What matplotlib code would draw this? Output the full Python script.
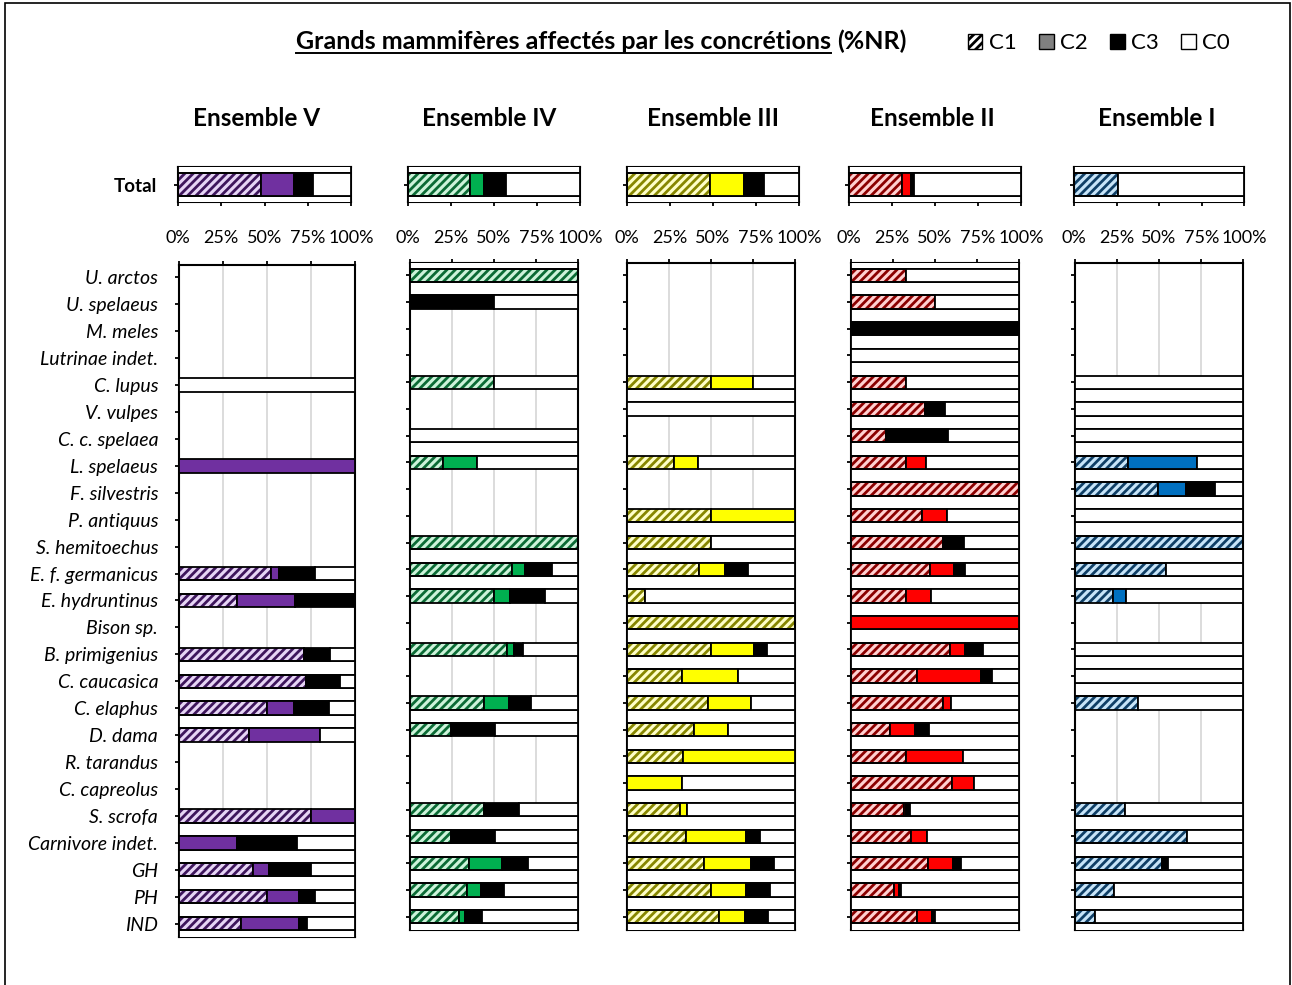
import numpy as np
import matplotlib.pyplot as plt
from matplotlib.patches import Patch, Rectangle
from matplotlib.lines import Line2D

plt.rcParams['font.family'] = ['Lato', 'DejaVu Sans']
plt.rcParams['hatch.linewidth'] = 2.0

nan = np.nan

# Data (%NR): C1, C2, C3 per ensemble, C0 is the remainder; nan = no remains

species = ["U. arctos", "U. spelaeus", "M. meles", "Lutrinae indet.", "C. lupus",
           "V. vulpes", "C. c. spelaea", "L. spelaeus", "F. silvestris", "P. antiquus",
           "S. hemitoechus", "E. f. germanicus", "E. hydruntinus", "Bison sp.",
           "B. primigenius", "C. caucasica", "C. elaphus", "D. dama", "R. tarandus",
           "C. capreolus", "S. scrofa", "Carnivore indet.", "GH", "PH", "IND"]

ensembles = ["Ensemble V", "Ensemble IV", "Ensemble III", "Ensemble II", "Ensemble I"]

ens5_c1 = [nan, nan, nan, nan, 0, nan, nan, 0, nan, nan, nan, 52, 33, nan, 71, 72, 50, 40, nan, nan, 75, 0, 42, 50, 35]
ens5_c2 = [nan, nan, nan, nan, 0, nan, nan, 100, nan, nan, nan, 5, 33, nan, 0, 0, 15.5, 40, nan, nan, 25, 33, 9, 18, 33]
ens5_c3 = [nan, nan, nan, nan, 0, nan, nan, 0, nan, nan, nan, 20, 34, nan, 15, 19.5, 20, 0, nan, nan, 0, 34, 24, 9, 5]

ens4_c1 = [100, 0, nan, nan, 50, nan, 0, 19.5, nan, nan, 100, 61, 50, nan, 58, nan, 44, 24.5, nan, nan, 44, 24.5, 35, 34, 29]
ens4_c2 = [0, 0, nan, nan, 0, nan, 0, 20.5, nan, nan, 0, 7.5, 9.5, nan, 4, nan, 15, 0, nan, nan, 0, 0, 20, 8.5, 4]
ens4_c3 = [0, 50, nan, nan, 0, nan, 0, 0, nan, nan, 0, 16, 21, nan, 5, nan, 13, 26, nan, nan, 21, 26, 15, 13.5, 10]

ens3_c1 = [nan, nan, nan, nan, 50, 0, nan, 28, nan, 50, 50, 43, 11, 100, 50, 33, 48, 40, 33.3, 0, 31.5, 35, 46, 50, 55]
ens3_c2 = [nan, nan, nan, nan, 25, 0, nan, 14.5, nan, 50, 0, 15.5, 0, 0, 25.5, 33, 26, 20, 66.7, 33, 4.5, 36, 28, 21, 15]
ens3_c3 = [nan, nan, nan, nan, 0, 0, nan, 0, nan, 0, 0, 13.5, 0, 0, 8, 0, 0, 0, 0, 0, 0, 8, 13.5, 14, 14]

ens2_c1 = [33, 50, 0, 0, 33, 44, 21, 33, 100, 42.5, 55, 47, 32.5, 0, 59, 39, 54.5, 23, 33, 60, 31.5, 36, 46, 25.7, 39.5]
ens2_c2 = [0, 0, 0, 0, 0, 0, 0, 11.5, 0, 14.5, 0, 14.5, 15, 100, 9, 38.5, 5, 15, 33.5, 13.5, 1, 9.5, 15, 3, 9]
ens2_c3 = [0, 0, 100, 0, 0, 12, 36.5, 0, 0, 0, 12, 6.5, 0, 0, 10.5, 6.5, 0, 8.5, 0, 0, 2.5, 0, 4.5, 1, 1.5]

ens1_c1 = [nan, nan, nan, nan, 0, 0, 0, 31.5, 49.5, 0, 100, 54.3, 22.5, nan, 0, 0, 37.5, nan, nan, nan, 29.5, 66.5, 52, 23, 12]
ens1_c2 = [nan, nan, nan, nan, 0, 0, 0, 41, 16.5, 0, 0, 0, 8, nan, 0, 0, 0, nan, nan, nan, 0, 0, 0, 0, 0]
ens1_c3 = [nan, nan, nan, nan, 0, 0, 0, 0, 17.5, 0, 0, 0, 0, nan, 0, 0, 0, nan, nan, nan, 0, 0, 3.5, 0, 0]

total_c1 = [48, 36, 48, 31, 26]
total_c2 = [19, 8, 20, 5, 0]
total_c3 = [11, 13, 11.5, 1.5, 0]

ens_c1 = [ens5_c1, ens4_c1, ens3_c1, ens2_c1, ens1_c1]
ens_c2 = [ens5_c2, ens4_c2, ens3_c2, ens2_c2, ens1_c2]
ens_c3 = [ens5_c3, ens4_c3, ens3_c3, ens2_c3, ens1_c3]

# colours per ensemble: solid (C2), hatch background, hatch lines
solid = ['#7030A0', '#00B050', '#FFFF00', '#FF0000', '#0070C0']
hatch_bg = ['#E6D5F5', '#CDF3DA', '#FFFFC8', '#FFD0D0', '#C7E4F8']
hatch_fg = ['#3E165C', '#0B6B35', '#878700', '#8B0000', '#0F3F66']

W, H = 1292, 985
# panel extents in pixels (x0, x1, top, bottom)
spec_box = [(179, 355, 265, 937), (410, 578, 263, 930), (627, 795, 263, 930),
            (851, 1019, 263, 930), (1075, 1243, 263, 930)]
tot_x = [(178, 351), (408, 580), (627, 799), (849, 1021), (1074, 1244)]
title_x = [257, 489, 713, 932, 1157]

LW = 1.3


def fax(x0, x1, top, bottom):
    return [x0 / W, 1 - bottom / H, (x1 - x0) / W, (bottom - top) / H]


def draw_stack(ax, pos, c1, c2, c3, i):
    pos = np.asarray(pos, float)
    c1, c2, c3 = np.asarray(c1, float), np.asarray(c2, float), np.asarray(c3, float)
    c0 = 100 - c1 - c2 - c3
    left = np.zeros_like(c1)
    for w, kind in [(c1, 'h'), (c2, solid[i]), (c3, 'black'), (c0, 'white')]:
        m = w > 0.05
        if kind == 'h':
            ax.barh(pos[m], w[m], left=left[m], height=0.5, color=hatch_bg[i],
                    edgecolor=hatch_fg[i], hatch='////', lw=0, zorder=2)
            ax.barh(pos[m], w[m], left=left[m], height=0.5, fill=False,
                    edgecolor='black', lw=LW, zorder=3)
        else:
            ax.barh(pos[m], w[m], left=left[m], height=0.5, color=kind,
                    edgecolor='black', lw=LW, zorder=3)
        left = left + w


def draw_gaps(ax, has):
    n = len(has)
    gaps = [k + 0.5 for k in range(-1, n)
            if (k < 0 or has[k]) and (k + 1 > n - 1 or has[k + 1])]
    ax.barh(gaps, [100] * len(gaps), height=0.5, color='white',
            edgecolor='black', lw=LW, zorder=3)


def style(ax):
    ax.set_xlim(0, 100)
    ax.set_axisbelow(True)
    ax.xaxis.grid(True, color='#d9d9d9', lw=1.3, zorder=0)
    for s in ax.spines.values():
        s.set_linewidth(1.5)
    ax.tick_params(direction='out', length=3, width=1.3)
    ax.set_xticks([0, 25, 50, 75, 100])


fig = plt.figure(figsize=(W / 100, H / 100), dpi=100)

for i in range(5):
    # total panel
    axt = fig.add_axes(fax(tot_x[i][0], tot_x[i][1], 167, 202))
    style(axt)
    draw_gaps(axt, [True])
    draw_stack(axt, [0], [total_c1[i]], [total_c2[i]], [total_c3[i]], i)
    axt.set_ylim(0.38, -0.38)
    axt.set_yticks([0])
    axt.set_yticklabels(['Total'] if i == 0 else [''], fontweight='bold', fontsize=13.5)
    axt.set_xticklabels(['0%', '25%', '50%', '75%', '100%'], fontsize=13)
    axt.tick_params(axis='x', pad=17)
    axt.tick_params(axis='y', pad=12)

    # species panel
    c1 = np.asarray(ens_c1[i], float)
    has = list(~np.isnan(c1))
    rows = np.arange(len(species))
    x0, x1, top, bottom = spec_box[i]
    axs = fig.add_axes(fax(x0, x1, top, bottom))
    style(axs)
    draw_gaps(axs, has)
    m = np.array(has)
    draw_stack(axs, rows[m], c1[m], np.asarray(ens_c2[i], float)[m],
               np.asarray(ens_c3[i], float)[m], i)
    axs.set_ylim(24.5, -0.46)
    axs.set_yticks(rows)
    axs.set_yticklabels(species if i == 0 else [''] * len(species),
                        fontstyle='italic', fontsize=14)
    axs.tick_params(axis='y', pad=12)
    axs.xaxis.tick_top()
    axs.set_xticklabels([])

    fig.text(title_x[i] / W, 1 - 118 / H, ensembles[i], ha='center', va='center',
             fontsize=17.5, fontweight='bold')

# title with underlined first part
t1 = fig.text(296 / W, 1 - 49 / H, "Grands mammifères affectés par les concrétions",
              ha='left', va='baseline', fontsize=18, fontweight='bold')
fig.canvas.draw()
bb = t1.get_window_extent(fig.canvas.get_renderer())
fig.text(bb.x1 / W + 6 / W, 1 - 49 / H, "(%NR)", ha='left', va='baseline',
         fontsize=18, fontweight='bold')
fig.add_artist(Line2D([bb.x0 / W, bb.x1 / W], [1 - 52.5 / H, 1 - 52.5 / H],
                      transform=fig.transFigure, color='black', lw=1.4))

# legend
handles = [Patch(facecolor='white', edgecolor='black', hatch='////', lw=1),
           Patch(facecolor='#808080', edgecolor='black', lw=1),
           Patch(facecolor='black', edgecolor='black', lw=1),
           Patch(facecolor='white', edgecolor='black', lw=1)]
fig.legend(handles, ['C1', 'C2', 'C3', 'C0'], loc='center left',
           bbox_to_anchor=(968 / W, 1 - 43 / H), ncol=4, frameon=False,
           fontsize=16, handlelength=0.65, handleheight=0.65, handletextpad=0.3,
           columnspacing=1.0, borderaxespad=0, borderpad=0)

# outer frame
fig.add_artist(Rectangle((5 / W, -0.01), 1285 / W, 1.01 - 3 / H,
                         transform=fig.transFigure, fill=False, ec='black', lw=1.2))

fig.savefig('out.png', dpi=100)
